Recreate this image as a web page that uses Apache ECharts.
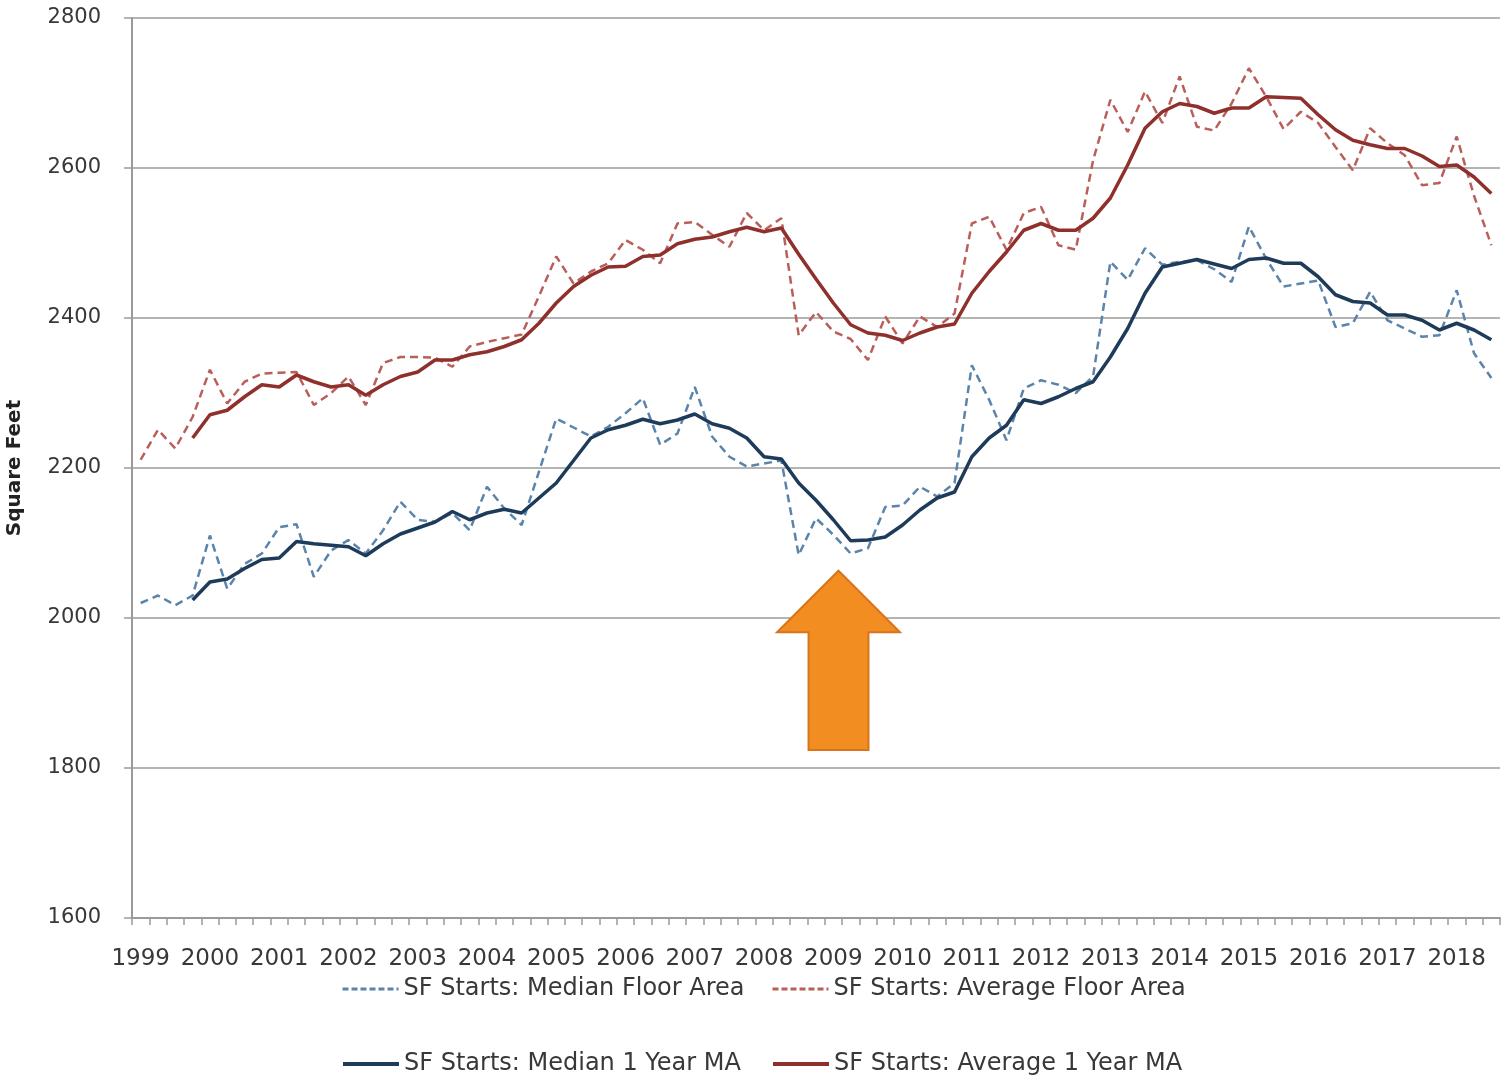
<!DOCTYPE html>
<html>
<head>
<meta charset="utf-8">
<title>Single-Family Starts: Floor Area</title>
<script src="https://cdn.jsdelivr.net/npm/echarts@6/dist/echarts.min.js"></script>
<style>
  html, body { margin: 0; padding: 0; background: #ffffff; }
  #chart { width: 1501px; height: 1086px; }
</style>
</head>
<body>
<div id="chart"></div>
<script>
// Quarterly series, 1999 Q1 through 2018 Q3
const years = [1999, 2000, 2001, 2002, 2003, 2004, 2005, 2006, 2007, 2008,
               2009, 2010, 2011, 2012, 2013, 2014, 2015, 2016, 2017, 2018];
const quarterNames = ['Q1', 'Q2', 'Q3', 'Q4'];
const quartersInLastYear = 3;

const categories = [];
years.forEach((y, yi) => {
  const n = yi === years.length - 1 ? quartersInLastYear : 4;
  for (let q = 0; q < n; q++) categories.push(y + ' ' + quarterNames[q]);
});

const medianFloorArea = [
  2020, 2030, 2017, 2030, 2110, 2039, 2072, 2086, 2121, 2125,
  2055, 2090, 2104, 2086, 2117, 2155, 2131, 2128, 2140, 2117,
  2175, 2146, 2124, 2195, 2266, 2254, 2242, 2255, 2273, 2293,
  2231, 2246, 2308, 2242, 2215, 2202, 2206, 2210, 2084, 2133,
  2111, 2086, 2093, 2148, 2150, 2175, 2162, 2180, 2337, 2291,
  2237, 2306, 2317, 2311, 2300, 2322, 2475, 2451, 2493, 2471,
  2475, 2477, 2465, 2448, 2522, 2479, 2442, 2446, 2450, 2388,
  2393, 2435, 2397, 2386, 2375, 2377, 2437, 2353, 2320
];

const averageFloorArea = [
  2211, 2251, 2226, 2268, 2331, 2286, 2315, 2326, 2327, 2328,
  2284, 2300, 2322, 2284, 2340, 2348, 2348, 2347, 2335, 2362,
  2368, 2373, 2378, 2429, 2482, 2446, 2462, 2473, 2504, 2491,
  2473, 2526, 2528, 2511, 2495, 2540, 2517, 2533, 2377, 2408,
  2382, 2372, 2344, 2402, 2366, 2402, 2388, 2406, 2526, 2535,
  2491, 2540, 2548, 2497, 2491, 2610, 2691, 2648, 2702, 2660,
  2722, 2655, 2650, 2686, 2733, 2695, 2652, 2675, 2660, 2628,
  2597, 2653, 2633, 2617, 2577, 2580, 2642, 2563, 2497
];

const median1YearMA = [
  null, null, null, 2024, 2048, 2052, 2066, 2078, 2080, 2102,
  2099, 2097, 2095, 2083, 2099, 2112, 2120, 2128, 2142, 2131,
  2140, 2145, 2140, 2160, 2180, 2210, 2240, 2251, 2257, 2265,
  2259, 2264, 2272, 2259, 2253, 2240, 2215, 2212, 2180, 2157,
  2131, 2103, 2104, 2108, 2124, 2144, 2160, 2168, 2215, 2240,
  2257, 2291, 2286, 2295, 2306, 2315, 2348, 2386, 2433, 2468,
  2473, 2478, 2472, 2466, 2478, 2480, 2473, 2473, 2455, 2431,
  2422, 2420, 2404, 2404, 2397, 2384, 2393, 2384, 2371
];

const average1YearMA = [
  null, null, null, 2240, 2271, 2277, 2295, 2311, 2308, 2324,
  2315, 2308, 2311, 2297, 2311, 2322, 2328, 2344, 2344, 2351,
  2355, 2362, 2371, 2393, 2420, 2442, 2457, 2468, 2469, 2482,
  2484, 2499, 2505, 2508, 2515, 2521, 2515, 2520, 2485, 2452,
  2420, 2391, 2380, 2377, 2370, 2380, 2388, 2392, 2433, 2462,
  2488, 2517, 2526, 2517, 2517, 2533, 2560, 2604, 2653, 2675,
  2686, 2682, 2673, 2680, 2680, 2695, 2694, 2693, 2671, 2651,
  2637, 2631, 2626, 2626, 2616, 2602, 2604, 2588, 2566
];

const seriesNames = [
  'SF Starts: Median Floor Area',
  'SF Starts: Average Floor Area',
  'SF Starts: Median 1 Year MA',
  'SF Starts: Average 1 Year MA'
];

const FONT = '"DejaVu Sans", "Noto Sans", sans-serif';
const TEXT_COLOR = '#383838';

const chart = echarts.init(document.getElementById('chart'), null, { renderer: 'canvas' });

function lineSeries(name, data, color, width, dashed) {
  return {
    name: name,
    type: 'line',
    data: data,
    symbol: 'none',
    showSymbol: false,
    smooth: false,
    connectNulls: false,
    itemStyle: { color: color },
    lineStyle: { color: color, width: width, type: dashed ? [8, 5] : 'solid' },
    emphasis: { disabled: true }
  };
}

function legendItem(name, left, top, dashed) {
  return {
    data: [name],
    left: left,
    top: top,
    orient: 'horizontal',
    itemWidth: 56,
    itemHeight: 14,
    selectedMode: false,
    itemStyle: { opacity: 0 },
    lineStyle: dashed ? { width: 3, type: [6, 3] } : { width: 4 },
    textStyle: { fontFamily: FONT, fontSize: 24, color: TEXT_COLOR }
  };
}

chart.setOption({
  animation: false,
  backgroundColor: '#ffffff',
  grid: { left: 132, right: 1, top: 18, bottom: 168, containLabel: false, outerBoundsMode: 'none' },
  legend: [
    legendItem(seriesNames[0], 336, 972, true),
    legendItem(seriesNames[1], 766, 972, true),
    legendItem(seriesNames[2], 336, 1047, false),
    legendItem(seriesNames[3], 766, 1047, false)
  ],
  xAxis: {
    type: 'category',
    data: categories,
    boundaryGap: true,
    axisLine: { show: true, lineStyle: { color: '#9a9a9a', width: 2 } },
    axisTick: { show: true, interval: 0, length: 7, lineStyle: { color: '#9a9a9a', width: 1.5 } },
    axisLabel: {
      interval: 3,
      margin: 30,
      fontFamily: FONT,
      fontSize: 23,
      color: TEXT_COLOR,
      formatter: v => v.split(' ')[0]
    },
    splitLine: { show: false }
  },
  yAxis: {
    type: 'value',
    min: 1600,
    max: 2800,
    interval: 200,
    name: 'Square Feet',
    nameLocation: 'middle',
    nameGap: 107,
    nameRotate: 90,
    nameTextStyle: { fontFamily: FONT, fontSize: 20, fontWeight: 'bold', color: '#222222' },
    axisLine: { show: true, lineStyle: { color: '#9a9a9a', width: 2 } },
    axisTick: { show: true, length: 8, lineStyle: { color: '#9a9a9a', width: 1.5 } },
    axisLabel: {
      margin: 31,
      fontFamily: FONT,
      fontSize: 21,
      color: TEXT_COLOR,
      formatter: v => String(v)
    },
    splitLine: { show: true, lineStyle: { color: '#b4b4b4', width: 2 } }
  },
  series: [
    lineSeries(seriesNames[0], medianFloorArea, '#5a84aa', 2.5, true),
    lineSeries(seriesNames[1], averageFloorArea, '#b95f5a', 2.5, true),
    lineSeries(seriesNames[2], median1YearMA, '#1f3b5a', 3.5, false),
    lineSeries(seriesNames[3], average1YearMA, '#8f302c', 3.5, false)
  ]
});

// Up-arrow callout under the 2009 trough, laid out in axis units
const arrowSpec = {
  centerIndex: 40.3,   // category position of the arrow's axis
  tipValue: 2063,
  shoulderValue: 1981,
  baseValue: 1824,
  headHalfWidth: 3.55, // in categories
  shaftHalfWidth: 1.73
};

function xAtIndex(idx) {
  const i0 = Math.floor(idx);
  const p0 = chart.convertToPixel({ xAxisIndex: 0 }, categories[i0]);
  const p1 = chart.convertToPixel({ xAxisIndex: 0 }, categories[i0 + 1]);
  return p0 + (idx - i0) * (p1 - p0);
}
function yAtValue(v) {
  return chart.convertToPixel({ yAxisIndex: 0 }, v);
}

const a = arrowSpec;
const arrowPoints = [
  [xAtIndex(a.centerIndex), yAtValue(a.tipValue)],
  [xAtIndex(a.centerIndex + a.headHalfWidth), yAtValue(a.shoulderValue)],
  [xAtIndex(a.centerIndex + a.shaftHalfWidth), yAtValue(a.shoulderValue)],
  [xAtIndex(a.centerIndex + a.shaftHalfWidth), yAtValue(a.baseValue)],
  [xAtIndex(a.centerIndex - a.shaftHalfWidth), yAtValue(a.baseValue)],
  [xAtIndex(a.centerIndex - a.shaftHalfWidth), yAtValue(a.shoulderValue)],
  [xAtIndex(a.centerIndex - a.headHalfWidth), yAtValue(a.shoulderValue)]
];

chart.setOption({
  graphic: [{
    type: 'polygon',
    shape: { points: arrowPoints },
    style: { fill: '#f28d21', stroke: '#d8741a', lineWidth: 2 },
    z: 10
  }]
});
</script>
</body>
</html>
